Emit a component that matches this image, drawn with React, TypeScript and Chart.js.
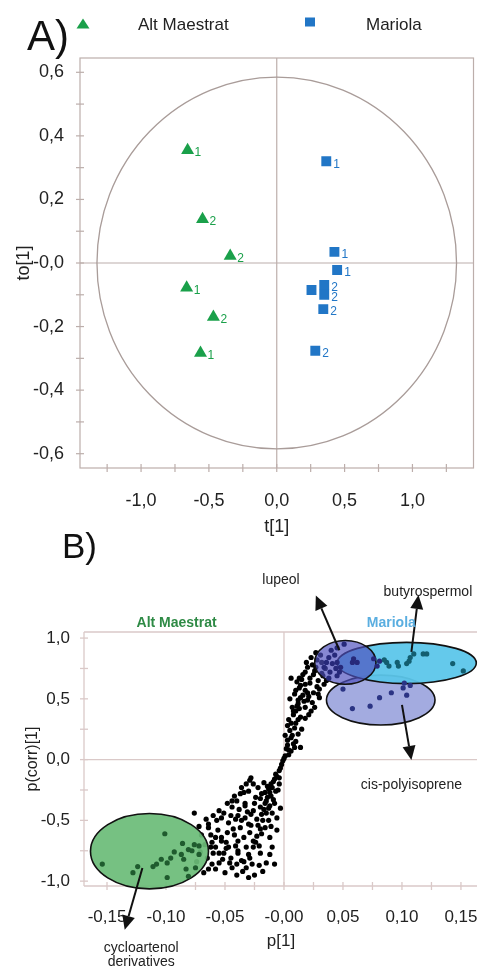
import React, { useEffect, useRef } from "react";
import { Chart, registerables } from "chart.js";
Chart.register(...registerables);

const FONT = "'Liberation Sans', Arial, Helvetica, sans-serif";

// ---------------- Panel A (scores) ----------------
const groupNames = ["Alt Maestrat", "Mariola"];
const altX = [-0.657, -0.547, -0.343, -0.664, -0.467, -0.562];
const altY = [0.355, 0.138, 0.022, -0.078, -0.17, -0.283];
const altLabels = ["1", "2", "2", "1", "2", "1"];
const marX = [0.365, 0.425, 0.445, 0.256, 0.35, 0.35, 0.343, 0.284];
const marY = [0.32, 0.035, -0.022, -0.085, -0.069, -0.1, -0.145, -0.276];
const marLabels = ["1", "1", "1", "", "2", "2", "2", "2"];
const hotellingRadius = [1.325, 0.585];
const aXRange = [-1.45, 1.45];
const aYRange = [-0.645, 0.645];

// ---------------- Panel B (loadings) ----------------
const bXRange = [-0.1695, 0.1636];
const bYRange = [-1.04, 1.05];
const cloudPoints: [number, number][] = [
  [0.013, 0.67], [0.014, 0.61], [0.018, 0.57], [0.01, 0.57], [0.012, 0.49], [0.02, 0.49], [0.023, 0.4],
  [0.026, 0.43], [0.03, 0.51], [0.03, 0.58], [0.029, 0.65], [0.033, 0.69], [0.026, 0.73], [0.035, 0.75],
  [0.014, 0.35], [0.008, 0.4], [0.034, 0.62], [0.018, 0.72], [0.022, 0.63], [0.006, 0.67], [0.016, 0.53],
  [0.022, 0.67], [0.018, 0.62], [0.013, 0.59], [0.009, 0.54], [0.02, 0.55], [0.014, 0.51], [0.012, 0.46],
  [0.01, 0.4], [0.008, 0.37], [0.018, 0.43], [0.006, 0.3], [0.009, 0.26], [0.005, 0.24], [0.012, 0.21],
  [0.003, 0.16], [0.008, 0.13], [0.002, 0.09], [0.006, 0.07], [0.001, 0.03], [0.014, 0.1], [-0.001, -0.01],
  [0.018, 0.34], [0.024, 0.78], [0.028, 0.82], [0.031, 0.86], [0.027, 0.88], [0.02, 0.76], [0.016, 0.7],
  [0.011, 0.64], [0.025, 0.7], [0.028, 0.6], [0.024, 0.47], [0.004, 0.33], [0.007, 0.2], [0.004, 0.04],
  [0.01, 0.3], [0.015, 0.25], [0.005, 0.5], [0.032, 0.8], [0.021, 0.52], [0.011, 0.44], [0.003, 0.12],
  [0.019, 0.8], [0.023, 0.84], [0.027, 0.76], [0.015, 0.66], [0.025, 0.55], [0.017, 0.48], [0.013, 0.42],
  [0.021, 0.37], [0.007, 0.43], [0.012, 0.33], [0.006, 0.18], [0.009, 0.1], [0.001, 0.2], [0.003, 0.28],
  [0.004, 0.08], [0.0, 0.01], [0.01, 0.15], [0.032, 0.71], [0.029, 0.54], [0.036, 0.65],
  [-0.002, -0.04], [-0.004, -0.09], [-0.006, -0.14], [-0.009, -0.18], [-0.01, -0.23], [-0.012, -0.27],
  [-0.014, -0.31], [-0.016, -0.36], [-0.017, -0.41], [-0.01, -0.44],
  [-0.003, -0.07], [-0.007, -0.12], [-0.008, -0.16], [-0.011, -0.2], [-0.029, -0.17], [-0.022, -0.23],
  [-0.013, -0.24], [-0.03, -0.26], [-0.034, -0.27], [-0.019, -0.28], [-0.011, -0.3], [-0.024, -0.31],
  [-0.015, -0.34], [-0.04, -0.34], [-0.033, -0.36], [-0.02, -0.39], [-0.013, -0.4], [-0.044, -0.39],
  [-0.026, -0.42], [-0.055, -0.42], [-0.076, -0.44], [-0.019, -0.45], [-0.039, -0.46], [-0.033, -0.48],
  [-0.045, -0.46], [-0.023, -0.49], [-0.013, -0.5], [-0.053, -0.48], [-0.064, -0.53], [-0.03, -0.53],
  [-0.022, -0.54], [-0.037, -0.56], [-0.043, -0.57], [-0.029, -0.6], [-0.019, -0.61], [-0.053, -0.64],
  [-0.034, -0.64], [-0.061, -0.68], [-0.024, -0.68], [-0.041, -0.71], [-0.032, -0.72], [-0.049, -0.73],
  [-0.055, -0.77], [-0.039, -0.77], [-0.029, -0.81], [-0.045, -0.81], [-0.02, -0.77],
  [-0.064, -0.56], [-0.057, -0.5], [-0.044, -0.34], [-0.037, -0.28], [-0.032, -0.2], [-0.028, -0.15],
  [-0.033, -0.38], [-0.041, -0.49], [-0.028, -0.54], [-0.053, -0.67], [-0.047, -0.72], [-0.039, -0.75],
  [-0.026, -0.67], [-0.06, -0.77], [-0.065, -0.81], [-0.061, -0.86], [-0.055, -0.85], [-0.068, -0.93],
  [-0.064, -0.9], [-0.032, -0.89], [-0.044, -0.89], [-0.051, -0.77], [-0.039, -0.67], [-0.058, -0.64],
  [-0.015, -0.85], [-0.01, -0.72], [-0.018, -0.92], [-0.025, -0.95], [-0.006, -0.58], [-0.035, -0.92],
  [-0.05, -0.93], [-0.058, -0.9], [-0.016, -0.56], [-0.008, -0.36], [-0.005, -0.25], [-0.017, -0.19],
  [-0.004, -0.15], [-0.027, -0.86], [-0.048, -0.6], [-0.036, -0.83], [-0.012, -0.64], [-0.062, -0.72],
  [-0.07, -0.62], [-0.021, -0.71], [-0.047, -0.52], [-0.028, -0.45], [-0.038, -0.41],
  [-0.004, -0.2], [-0.007, -0.26], [-0.009, -0.33], [-0.012, -0.38], [-0.015, -0.44], [-0.018, -0.5],
  [-0.02, -0.57], [-0.023, -0.63], [-0.026, -0.72], [-0.03, -0.78], [-0.034, -0.84], [-0.04, -0.86],
  [-0.046, -0.85], [-0.052, -0.82], [-0.049, -0.68], [-0.056, -0.58], [-0.062, -0.62], [-0.067, -0.7],
  [-0.071, -0.76], [-0.074, -0.84], [-0.042, -0.62], [-0.036, -0.5], [-0.031, -0.43], [-0.025, -0.36],
  [-0.02, -0.32], [-0.016, -0.27], [-0.014, -0.22], [-0.026, -0.2], [-0.036, -0.23], [-0.042, -0.3],
  [-0.048, -0.36], [-0.051, -0.44], [-0.06, -0.46], [-0.066, -0.49], [-0.072, -0.55], [-0.058, -0.72],
  [-0.012, -0.78], [-0.008, -0.86], [-0.021, -0.87], [-0.03, -0.97], [-0.04, -0.95], [-0.006, -0.48],
  [-0.003, -0.4], [-0.011, -0.55],
];
const cycloPoints: [number, number][] = [
  [-0.154, -0.86], [-0.128, -0.93], [-0.124, -0.88], [-0.111, -0.88], [-0.108, -0.86], [-0.104, -0.82],
  [-0.101, -0.61], [-0.099, -0.85], [-0.099, -0.97], [-0.096, -0.81], [-0.093, -0.76], [-0.087, -0.78],
  [-0.086, -0.69], [-0.085, -0.82], [-0.083, -0.9], [-0.081, -0.74], [-0.078, -0.75], [-0.076, -0.7],
  [-0.072, -0.78], [-0.072, -0.71], [-0.075, -0.89], [-0.081, -0.96],
];
const lupeolPoints: [number, number][] = [
  [0.045, 0.92], [0.051, 0.95], [0.043, 0.86], [0.045, 0.8], [0.044, 0.75], [0.039, 0.72], [0.048, 0.76],
  [0.041, 0.79], [0.045, 0.69], [0.038, 0.84], [0.058, 0.8], [0.062, 0.8], [0.059, 0.83], [0.076, 0.83],
  [0.081, 0.81], [0.079, 0.77], [0.038, 0.67], [0.034, 0.76], [0.036, 0.8], [0.04, 0.9], [0.047, 0.72],
];
const butyroPoints: [number, number][] = [
  [0.087, 0.8], [0.089, 0.77], [0.096, 0.8], [0.097, 0.77], [0.106, 0.81], [0.107, 0.84], [0.11, 0.87],
  [0.118, 0.87], [0.121, 0.87], [0.143, 0.79], [0.152, 0.73], [0.104, 0.79], [0.085, 0.82],
];
const cisPoints: [number, number][] = [
  [0.05, 0.58], [0.058, 0.42], [0.073, 0.44], [0.081, 0.51], [0.091, 0.55], [0.101, 0.59], [0.104, 0.53],
  [0.102, 0.63], [0.107, 0.61],
];
// ellipse [cx, cy, rx, ry] in data units
const ellipseNames = ["cycloartenol", "cis-polyisoprene", "butyrospermol", "lupeol"];
const ellipseParams: [number, number, number, number][] = [
  [-0.114, -0.754, 0.05, 0.31],
  [0.082, 0.49, 0.046, 0.205],
  [0.104, 0.795, 0.059, 0.17],
  [0.052, 0.8, 0.026, 0.18],
];
const ellipseFills = ["rgba(108,188,120,0.93)", "rgba(158,166,222,0.95)", "rgba(92,198,234,0.95)", "rgba(78,80,190,0.68)"];
// arrows [tailX, tailY, headX, headY]
const arrows: [number, number, number, number][] = [
  [0.047, 0.9, 0.027, 1.35],
  [0.108, 0.886, 0.114, 1.355],
  [0.1, 0.45, 0.108, -0.003],
  [-0.12, -0.892, -0.135, -1.4],
];
const annotationTexts = ["lupeol", "butyrospermol", "cis-polyisoprene", "cycloartenol", "derivatives"];
const annotationPos: [number, number][] = [
  [-0.0025, 1.478], [0.122, 1.379], [0.108, -0.21], [-0.121, -1.548], [-0.121, -1.67],
];
const regionTitlePos: [number, number][] = [[-0.091, 1.124], [0.091, 1.124]];

// ---------------- helpers ----------------
const isMult = (v: number, s: number) => Math.abs(v / s - Math.round(v / s)) < 1e-6;
const comma = (v: number, d: number) => v.toFixed(d).replace(".", ",");
const GREEN = "#1aa04a";
const BLUE = "#2176c6";
const TXT = "#222";

function line(ctx: CanvasRenderingContext2D, x1: number, y1: number, x2: number, y2: number) {
  ctx.beginPath();
  ctx.moveTo(x1, y1);
  ctx.lineTo(x2, y2);
  ctx.stroke();
}

function arrow(ctx: CanvasRenderingContext2D, x1: number, y1: number, x2: number, y2: number) {
  const ang = Math.atan2(y2 - y1, x2 - x1);
  const L = 14, W = 6.5;
  const bx = x2 - L * Math.cos(ang), by = y2 - L * Math.sin(ang);
  line(ctx, x1, y1, bx, by);
  ctx.beginPath();
  ctx.moveTo(x2, y2);
  ctx.lineTo(bx + W * Math.sin(ang), by - W * Math.cos(ang));
  ctx.lineTo(bx - W * Math.sin(ang), by + W * Math.cos(ang));
  ctx.closePath();
  ctx.fill();
}

const decorA = {
  id: "decorA",
  beforeDatasetsDraw(chart: any) {
    const { ctx, chartArea: a, scales } = chart;
    const x = scales.x, y = scales.y;
    ctx.save();
    ctx.strokeStyle = "#bcaeab";
    ctx.lineWidth = 1.2;
    ctx.strokeRect(a.left, a.top, a.right - a.left, a.bottom - a.top);
    const x0 = x.getPixelForValue(0), y0 = y.getPixelForValue(0);
    line(ctx, x0, a.top, x0, a.bottom);
    line(ctx, a.left, y0, a.right, y0);
    x.ticks.forEach((t: any) => {
      const p = x.getPixelForValue(t.value);
      line(ctx, p, a.bottom - 4, p, a.bottom + 4);
    });
    y.ticks.forEach((t: any) => {
      const p = y.getPixelForValue(t.value);
      line(ctx, a.left - 4, p, a.left + 4, p);
    });
    ctx.strokeStyle = "#a99c99";
    ctx.lineWidth = 1.3;
    ctx.beginPath();
    ctx.ellipse(
      x0, y0,
      Math.abs(x.getPixelForValue(hotellingRadius[0]) - x0),
      Math.abs(y.getPixelForValue(hotellingRadius[1]) - y0),
      0, 0, Math.PI * 2
    );
    ctx.stroke();
    ctx.restore();
  },
  afterDatasetsDraw(chart: any) {
    const { ctx } = chart;
    ctx.save();
    ctx.font = `12px ${FONT}`;
    ctx.textBaseline = "middle";
    ctx.textAlign = "left";
    const sets = [altLabels, marLabels];
    const cols = [GREEN, BLUE];
    sets.forEach((labels, i) => {
      const meta = chart.getDatasetMeta(i);
      ctx.fillStyle = cols[i];
      labels.forEach((lab, j) => {
        const el = meta.data[j];
        if (lab) ctx.fillText(lab, el.x + 7, el.y + 3);
      });
    });
    ctx.restore();
  },
  afterDraw(chart: any) {
    const { ctx, chartArea: a, scales } = chart;
    ctx.save();
    ctx.fillStyle = "#111";
    ctx.font = `42px ${FONT}`;
    ctx.textBaseline = "alphabetic";
    ctx.textAlign = "left";
    ctx.fillText("A)", 27, 50);
    // legend
    ctx.fillStyle = GREEN;
    ctx.beginPath();
    ctx.moveTo(83, 18.5);
    ctx.lineTo(89.5, 28.5);
    ctx.lineTo(76.5, 28.5);
    ctx.closePath();
    ctx.fill();
    ctx.fillStyle = BLUE;
    ctx.fillRect(305, 17.5, 10, 9);
    ctx.fillStyle = TXT;
    ctx.font = `17px ${FONT}`;
    ctx.textBaseline = "middle";
    ctx.fillText(groupNames[0], 138, 25);
    ctx.fillText(groupNames[1], 366, 25);
    // axis titles
    ctx.font = `18px ${FONT}`;
    ctx.textAlign = "center";
    ctx.fillStyle = TXT;
    ctx.fillText("t[1]", scales.x.getPixelForValue(0), 527);
    ctx.translate(24, (a.top + a.bottom) / 2);
    ctx.rotate(-Math.PI / 2);
    ctx.fillText("to[1]", 0, 0);
    ctx.restore();
  },
};

const decorB = {
  id: "decorB",
  beforeDatasetsDraw(chart: any) {
    const { ctx, chartArea: a, scales } = chart;
    const x = scales.x, y = scales.y;
    ctx.save();
    ctx.strokeStyle = "#dac9c8";
    ctx.lineWidth = 1.3;
    line(ctx, a.left, a.top, a.right, a.top);
    line(ctx, a.left, a.top, a.left, a.bottom);
    line(ctx, a.left, a.bottom, a.right, a.bottom);
    const x0 = x.getPixelForValue(0), y0 = y.getPixelForValue(0);
    line(ctx, x0, a.top, x0, a.bottom);
    line(ctx, a.left, y0, a.right, y0);
    x.ticks.forEach((t: any) => {
      const p = x.getPixelForValue(t.value);
      line(ctx, p, a.bottom - 4, p, a.bottom + 4);
    });
    y.ticks.forEach((t: any) => {
      const p = y.getPixelForValue(t.value);
      line(ctx, a.left - 4, p, a.left + 4, p);
    });
    ctx.restore();
  },
  afterDatasetDraw(chart: any, args: any) {
    if (args.index !== 4) return;
    const { ctx, scales } = chart;
    const x = scales.x, y = scales.y;
    ctx.save();
    ellipseParams.forEach(([cx, cy, rx, ry], i) => {
      const px = x.getPixelForValue(cx), py = y.getPixelForValue(cy);
      const rpx = Math.abs(x.getPixelForValue(cx + rx) - px);
      const rpy = Math.abs(y.getPixelForValue(cy + ry) - py);
      ctx.beginPath();
      ctx.ellipse(px, py, rpx, rpy, 0, 0, Math.PI * 2);
      ctx.fillStyle = ellipseFills[i];
      ctx.fill();
      ctx.strokeStyle = "#111";
      ctx.lineWidth = 1.6;
      ctx.stroke();
    });
    ctx.restore();
  },
  afterDraw(chart: any) {
    const { ctx, chartArea: a, scales } = chart;
    const x = scales.x, y = scales.y;
    ctx.save();
    ctx.strokeStyle = "#111";
    ctx.fillStyle = "#111";
    ctx.lineWidth = 2;
    arrows.forEach(([tx, ty, hx, hy]) => {
      arrow(ctx, x.getPixelForValue(tx), y.getPixelForValue(ty), x.getPixelForValue(hx), y.getPixelForValue(hy));
    });
    ctx.font = `14px ${FONT}`;
    ctx.textAlign = "center";
    ctx.textBaseline = "middle";
    ctx.fillStyle = TXT;
    annotationTexts.forEach((t, i) => {
      ctx.fillText(t, x.getPixelForValue(annotationPos[i][0]), y.getPixelForValue(annotationPos[i][1]));
    });
    ctx.font = `bold 14px ${FONT}`;
    ctx.fillStyle = "#2e8a45";
    ctx.fillText(groupNames[0], x.getPixelForValue(regionTitlePos[0][0]), y.getPixelForValue(regionTitlePos[0][1]));
    ctx.fillStyle = "#5aaee0";
    ctx.fillText(groupNames[1], x.getPixelForValue(regionTitlePos[1][0]), y.getPixelForValue(regionTitlePos[1][1]));
    // panel letter
    ctx.fillStyle = "#111";
    ctx.font = `35px ${FONT}`;
    ctx.textAlign = "left";
    ctx.textBaseline = "alphabetic";
    ctx.fillText("B)", 62, 38);
    // axis titles
    ctx.fillStyle = TXT;
    ctx.font = `17px ${FONT}`;
    ctx.textAlign = "center";
    ctx.textBaseline = "middle";
    ctx.fillText("p[1]", x.getPixelForValue(0) - 3, 421);
    ctx.font = `16px ${FONT}`;
    ctx.translate(33, (a.top + a.bottom) / 2);
    ctx.rotate(-Math.PI / 2);
    ctx.fillText("p(corr)[1]", 0, 0);
    ctx.restore();
  },
};

function ChartA() {
  const ref = useRef<HTMLCanvasElement>(null);
  useEffect(() => {
    const mk = (xs: number[], ys: number[]) => xs.map((v, i) => ({ x: v, y: ys[i] }));
    const chart = new Chart(ref.current!, {
      type: "scatter",
      data: {
        datasets: [
          { label: groupNames[0], data: mk(altX, altY), pointStyle: "triangle", pointRadius: 7.5, backgroundColor: GREEN, borderColor: GREEN, borderWidth: 0 },
          { label: groupNames[1], data: mk(marX, marY), pointStyle: "rect", pointRadius: 7, backgroundColor: BLUE, borderColor: BLUE, borderWidth: 0 },
        ],
      },
      options: {
        responsive: false,
        animation: false,
        layout: { padding: { top: 58, right: 5, left: 0, bottom: 0 } },
        plugins: { legend: { display: false }, tooltip: { enabled: false } },
        scales: {
          x: {
            type: "linear", min: aXRange[0], max: aXRange[1],
            grid: { display: false }, border: { display: false },
            ticks: {
              stepSize: 0.25, includeBounds: false, autoSkip: false, maxRotation: 0, maxTicksLimit: 20, padding: 14,
              color: TXT, font: { family: FONT, size: 18 },
              callback: (v: any) => (isMult(v, 0.5) ? comma(Math.abs(v) < 1e-9 ? 0 : v, 1) : ""),
            },
            afterFit: (s: any) => { s.height = 72; s.paddingLeft = 0; s.paddingRight = 0; },
          },
          y: {
            type: "linear", min: aYRange[0], max: aYRange[1],
            grid: { display: false }, border: { display: false },
            ticks: {
              stepSize: 0.1, includeBounds: false, autoSkip: false, maxTicksLimit: 20, padding: 8,
              color: TXT, font: { family: FONT, size: 18 },
              callback: (v: any) => (isMult(v, 0.2) ? (Math.abs(v) < 1e-9 ? "-0,0" : comma(v, 1)) : ""),
            },
            afterFit: (s: any) => { s.width = 80; s.paddingTop = 0; s.paddingBottom = 0; },
          },
        },
      } as any,
      plugins: [decorA],
    });
    return () => chart.destroy();
  }, []);
  return <canvas ref={ref} width={481} height={540} style={{ position: "absolute", left: 0, top: 0, width: 481, height: 540 }} />;
}

function ChartB() {
  const ref = useRef<HTMLCanvasElement>(null);
  useEffect(() => {
    const mk = (pts: [number, number][]) => pts.map(([x, y]) => ({ x, y }));
    const ds = (data: [number, number][], color: string, label: string) => ({
      label, data: mk(data), pointRadius: 2.6, backgroundColor: color, borderColor: color, borderWidth: 0,
    });
    const chart = new Chart(ref.current!, {
      type: "scatter",
      data: {
        datasets: [
          ds(cycloPoints, "#1f5b2e", ellipseNames[0]),
          ds(cisPoints, "#2b3484", ellipseNames[1]),
          ds(butyroPoints, "#135e70", ellipseNames[2]),
          ds(lupeolPoints, "#27297a", ellipseNames[3]),
          ds(cloudPoints, "#000000", "all"),
        ],
      },
      options: {
        responsive: false,
        animation: false,
        layout: { padding: { top: 112, right: 0, left: 0, bottom: 0 } },
        plugins: { legend: { display: false }, tooltip: { enabled: false } },
        scales: {
          x: {
            type: "linear", min: bXRange[0], max: bXRange[1],
            grid: { display: false }, border: { display: false },
            ticks: {
              stepSize: 0.025, includeBounds: false, autoSkip: false, maxRotation: 0, maxTicksLimit: 20, padding: 13,
              color: TXT, font: { family: FONT, size: 17 },
              callback: (v: any) => (isMult(v, 0.05) ? (Math.abs(v) < 1e-9 ? "-0,00" : comma(v, 2)) : ""),
            },
            afterFit: (s: any) => { s.height = 86; s.paddingLeft = 0; s.paddingRight = 0; },
          },
          y: {
            type: "linear", min: bYRange[0], max: bYRange[1],
            grid: { display: false }, border: { display: false },
            ticks: {
              stepSize: 0.25, includeBounds: false, autoSkip: false, maxTicksLimit: 20, padding: 6,
              color: TXT, font: { family: FONT, size: 17 },
              callback: (v: any) => (isMult(v, 0.5) ? comma(Math.abs(v) < 1e-9 ? 0 : v, 1) : ""),
            },
            afterFit: (s: any) => { s.width = 84; s.paddingTop = 0; s.paddingBottom = 0; },
          },
        },
      } as any,
      plugins: [decorB],
    });
    return () => chart.destroy();
  }, []);
  return <canvas ref={ref} width={481} height={452} style={{ position: "absolute", left: 0, top: 520, width: 481, height: 452 }} />;
}

export default function App() {
  return (
    <div style={{ position: "absolute", left: 0, top: 0, width: 481, height: 972, background: "#fff", overflow: "hidden" }}>
      <ChartA />
      <ChartB />
    </div>
  );
}
